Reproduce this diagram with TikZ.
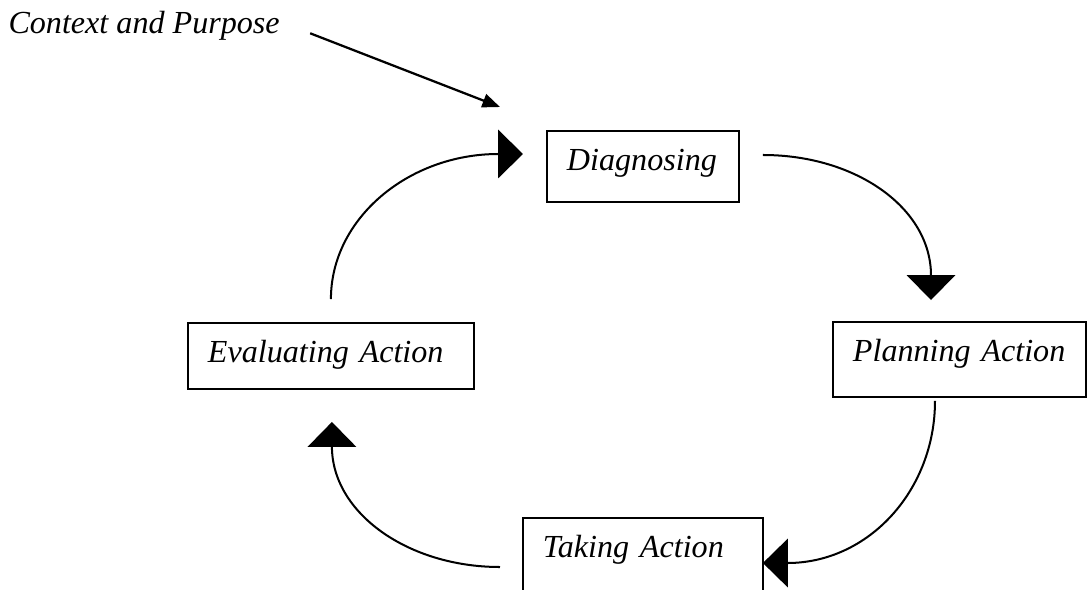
\documentclass[tikz,border=0pt]{standalone}
\usepackage{fontspec}
\setmainfont{Liberation Serif}
\usepackage{tikz}
\usetikzlibrary{arrows.meta,positioning,calc}

\begin{document}
\begin{tikzpicture}[
  x=0.014cm, y=-0.014cm,
  font=\fontsize{12.8}{15}\selectfont\itshape,
  stagebox/.style={
    draw, line width=0.8pt, anchor=north west, align=left,
    inner xsep=0.28cm, inner ysep=0pt, outer sep=0pt,
    text height=0.56cm,
  },
  cyc/.style={-{Triangle[length=0.35cm, width=0.68cm]}, line width=0.8pt},
  inarr/.style={-{Triangle[length=7pt, width=5.5pt]}, line width=0.9pt},
]
\clip (0,0) rectangle (1088,589);
% the four stages
\node[stagebox, text width=2.128cm, text depth=0.434cm] (diag) at (547,131) {Diagnosing};
\node[stagebox, text width=2.982cm, text depth=0.49cm] (plan) at (833,322) {Planning Action};
\node[stagebox, text width=2.80cm, text depth=0.49cm] (take) at (523,518) {Taking Action};
\node[stagebox, text width=3.444cm, text depth=0.364cm] (evalu) at (188,323) {Evaluating Action};
\node[anchor=base west, inner sep=0pt] (ctx) at (8,33) {Context and Purpose};
% arc ends, next to the boxes
\coordinate (ctxout) at ([shift={(30,8)}]ctx.east);
\coordinate (diagin2) at ([shift={(-47,-24)}]diag.north west);
\coordinate (diagin) at ([shift={(-24,-12.5)}]diag.west);
\coordinate (diagout) at ([shift={(24,-11.5)}]diag.east);
\coordinate (planin) at ([shift={(98,-22)}]plan.north west);
\coordinate (planout) at ([shift={(102,4)}]plan.south west);
\coordinate (takein) at ([shift={(0,45)}]take.north east);
\coordinate (takeout) at ([shift={(-23,49)}]take.north west);
\coordinate (evalin) at ([shift={(1,33)}]evalu.south);
\coordinate (evalout) at ([shift={(0,-24)}]evalu.north);
% the cycle
\draw[cyc] (evalout) .. controls +(0,-80) and +(-115,0) .. (diagin);
\draw[cyc] (diagout) .. controls +(93,0) and +(0,-92) .. (planin);
\draw[cyc] (planout) .. controls +(0,89) and +(106,0) .. (takein);
\draw[cyc] (takeout) .. controls +(-92,0) and +(0,91) .. (evalin);
\draw[inarr] (ctxout) -- (diagin2);
\end{tikzpicture}
\end{document}
